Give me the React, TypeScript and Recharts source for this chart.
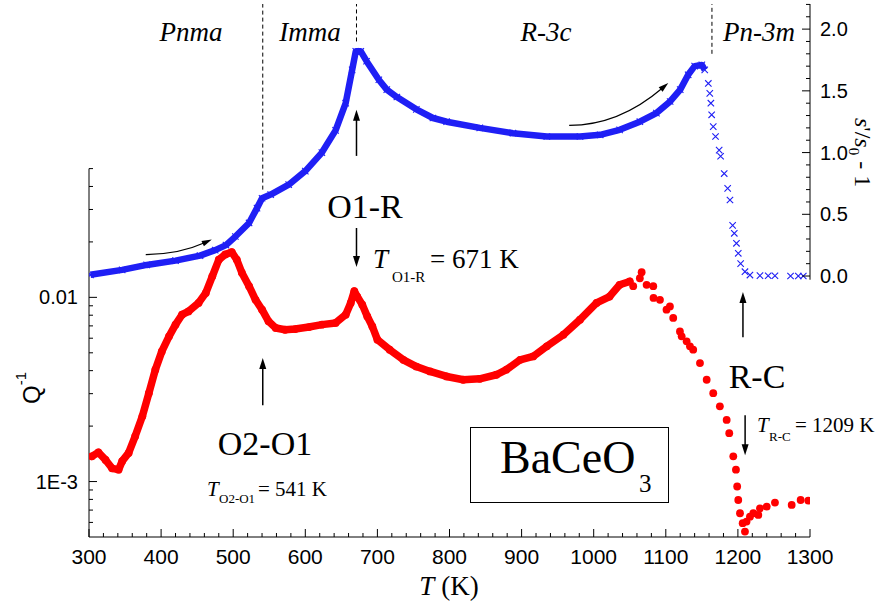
import React from 'react';
import { ComposedChart, Line, Scatter, XAxis, YAxis, ReferenceLine } from 'recharts';

// s'/s0 - 1 (right axis), dense part of the heating run
const blueT = [302, 346, 380, 420, 454, 475, 490, 503, 522, 533, 540, 552, 577, 600, 623, 642, 656, 665, 670, 677, 685, 702, 713, 727, 754, 777, 796, 842, 888, 935, 981, 1009, 1036, 1064, 1087, 1106, 1120, 1131, 1140, 1150, 1154];
const blueV = [0.01, 0.05, 0.09, 0.125, 0.165, 0.21, 0.25, 0.32, 0.43, 0.55, 0.63, 0.66, 0.74, 0.85, 1.0, 1.18, 1.4, 1.67, 1.82, 1.82, 1.74, 1.59, 1.51, 1.45, 1.35, 1.28, 1.25, 1.2, 1.157, 1.13, 1.13, 1.144, 1.184, 1.25, 1.32, 1.414, 1.51, 1.63, 1.7, 1.71, 1.67];

// s'/s0 - 1, sparse points through the R-C transition
const blueSparseT = [1159, 1161, 1162.5, 1163.6, 1165.8, 1169, 1174, 1176, 1181, 1185.8, 1189, 1192.7, 1195, 1198, 1200.5, 1203.8, 1209.8, 1216.7, 1230.6, 1242, 1251.4, 1273, 1283.8, 1290.7];
const blueSparseV = [1.56, 1.48, 1.4, 1.306, 1.21, 1.13, 1.02, 0.97, 0.83, 0.71, 0.616, 0.41, 0.346, 0.265, 0.184, 0.1, 0.035, 0.008, 0.003, 0.002, 0.002, 0, 0, 0];

// internal friction Q^-1 (left, log axis), dense part
const redT = [304, 313, 323, 332, 341, 346, 355, 364, 374, 383, 392, 401, 411, 420, 429, 438, 452, 462, 471, 480, 489, 498, 505, 512, 522, 531, 540, 549, 559, 572, 586, 605, 623, 642, 656, 663, 668, 672, 679, 686, 693, 700, 717, 736, 754, 773, 796, 819, 842, 865, 879, 898, 916, 935, 958, 981, 1004, 1022, 1036, 1050];
const redQ = [1.37e-3, 1.44e-3, 1.31e-3, 1.18e-3, 1.16e-3, 1.29e-3, 1.43e-3, 1.76e-3, 2.26e-3, 3.02e-3, 4.05e-3, 5.09e-3, 6.14e-3, 7.11e-3, 8.05e-3, 8.39e-3, 9.33e-3, 1.057e-2, 1.3e-2, 1.6e-2, 1.71e-2, 1.76e-2, 1.6e-2, 1.36e-2, 1.15e-2, 9.7e-3, 8.57e-3, 7.41e-3, 6.82e-3, 6.67e-3, 6.73e-3, 6.9e-3, 7.11e-3, 7.26e-3, 8.05e-3, 9.33e-3, 1.08e-2, 1.01e-2, 9.13e-3, 7.88e-3, 6.95e-3, 5.89e-3, 5.2e-3, 4.58e-3, 4.21e-3, 3.96e-3, 3.72e-3, 3.57e-3, 3.61e-3, 3.8e-3, 4.05e-3, 4.58e-3, 4.78e-3, 5.42e-3, 6.27e-3, 7.57e-3, 9.33e-3, 1.01e-2, 1.17e-2, 1.22e-2];

// Q^-1, scattered points above ~1050 K
const redSparseT = [1054.8, 1064, 1066.5, 1073.4, 1082.6, 1083, 1091.9, 1101, 1105.7, 1110.3, 1119.6, 1122, 1128.9, 1133.5, 1138, 1147.4, 1156.7, 1165.8, 1175, 1184.4, 1188, 1193.6, 1197.3, 1199, 1200.5, 1202.9, 1206.6, 1209.8, 1212, 1216.7, 1221.4, 1228.3, 1230.6, 1240, 1251.4, 1274.6, 1287, 1297.6];
const redSparseQ = [1.15e-2, 1.27e-2, 1.37e-2, 1.17e-2, 1.15e-2, 9.93e-3, 9.7e-3, 8.57e-3, 8.93e-3, 7.73e-3, 6.53e-3, 6.14e-3, 5.77e-3, 5.42e-3, 5.2e-3, 4.4e-3, 3.57e-3, 3.02e-3, 2.56e-3, 2.16e-3, 1.83e-3, 1.37e-3, 1.16e-3, 9.4e-4, 7.94e-4, 6.73e-4, 5.94e-4, 5.35e-4, 6.06e-4, 6.45e-4, 6.73e-4, 6.59e-4, 7.16e-4, 7.31e-4, 7.69e-4, 7.47e-4, 7.94e-4, 7.88e-4];

const xTicks = [300, 320, 340, 360, 380, 400, 420, 440, 460, 480, 500, 520, 540, 560, 580, 600, 620, 640, 660, 680, 700, 720, 740, 760, 780, 800, 820, 840, 860, 880, 900, 920, 940, 960, 980, 1000, 1020, 1040, 1060, 1080, 1100, 1120, 1140, 1160, 1180, 1200, 1220, 1240, 1260, 1280, 1300];
const leftTicks = [6e-4, 7e-4, 8e-4, 9e-4, 1e-3, 2e-3, 3e-3, 4e-3, 5e-3, 6e-3, 7e-3, 8e-3, 9e-3, 1e-2, 2e-2, 3e-2, 4e-2, 5e-2];
const rightTicks = [0, 0.1, 0.2, 0.3, 0.4, 0.5, 0.6, 0.7, 0.8, 0.9, 1.0, 1.1, 1.2, 1.3, 1.4, 1.5, 1.6, 1.7, 1.8, 1.9, 2.0, 2.1, 2.2];

const blueDense = blueT.map((T, i) => ({ T, s: blueV[i] }));
const blueSparse = blueSparseT.map((T, i) => ({ T, s: blueSparseV[i] }));
const redDense = redT.map((T, i) => ({ T, q: redQ[i] }));
const redSparse = redSparseT.map((T, i) => ({ T, q: redSparseQ[i] }));

const SANS = '"Liberation Sans", Arial, sans-serif';
const SERIF = '"Liberation Serif", "Times New Roman", serif';
const BLUE = '#1f1ff5';
const RED = '#ff0000';

const BottomTick = ({ x, y, payload }: any) => {
  const major = payload.value % 100 === 0;
  return (
    <g>
      <line x1={x} x2={x} y1={y} y2={y - (major ? 8 : 4)} stroke="#000" />
      {major && (
        <text x={x} y={y + 27} textAnchor="middle" fontFamily={SANS} fontSize={21} fill="#000">
          {payload.value}
        </text>
      )}
    </g>
  );
};

const TopTick = ({ x, y, payload }: any) => {
  const major = payload.value % 100 === 0;
  return <line x1={x} x2={x} y1={y} y2={y + (major ? 8 : 4)} stroke="#000" />;
};

const LeftTick = ({ x, y, payload }: any) => {
  const v = payload.value;
  let label = '';
  if (Math.abs(v - 1e-3) < 1e-9) label = '1E-3';
  if (Math.abs(v - 1e-2) < 1e-9) label = '0.01';
  return (
    <g>
      <line x1={x} x2={x + (label ? 8 : 4)} y1={y} y2={y} stroke="#000" />
      {label && (
        <text x={x - 11} y={y} dy="0.35em" textAnchor="end" fontFamily={SANS} fontSize={20} fill="#000">
          {label}
        </text>
      )}
    </g>
  );
};

const RightTick = ({ x, y, payload }: any) => {
  const v = payload.value;
  const major = Math.abs(v * 2 - Math.round(v * 2)) < 1e-6;
  return (
    <g>
      <line x1={x} x2={x - (major ? 8 : 4)} y1={y} y2={y} stroke="#000" />
      {major && (
        <text x={x + 10} y={y} dy="0.35em" textAnchor="start" fontFamily={SANS} fontSize={20} fill="#000">
          {v.toFixed(1)}
        </text>
      )}
    </g>
  );
};

const head = (x: number, y: number, ux: number, uy: number, len = 11, hw = 3.5) => {
  const bx = x - ux * len;
  const by = y - uy * len;
  return `${x},${y} ${bx - uy * hw},${by + ux * hw} ${bx + uy * hw},${by - ux * hw}`;
};

// straight arrow, tail -> tip
const ArrowShape = (p: any) => {
  const { x1, y1, x2, y2 } = p;
  const d = Math.hypot(x2 - x1, y2 - y1) || 1;
  const ux = (x2 - x1) / d;
  const uy = (y2 - y1) / d;
  return (
    <g>
      <line x1={x1} y1={y1} x2={x2 - ux * 9} y2={y2 - uy * 9} stroke="#000" strokeWidth={1.5} />
      <polygon points={head(x2, y2, ux, uy)} fill="#000" />
    </g>
  );
};

// curved arrow, starts flat and bends up into the tip
const CurveShape = (p: any) => {
  const { x1, y1, x2, y2 } = p;
  const cx = x1 + 0.5 * (x2 - x1);
  const cy = y1;
  const d = Math.hypot(x2 - cx, y2 - cy) || 1;
  const ux = (x2 - cx) / d;
  const uy = (y2 - cy) / d;
  return (
    <g>
      <path d={`M${x1},${y1} Q${cx},${cy} ${x2 - ux * 8},${y2 - uy * 8}`} fill="none" stroke="#000" strokeWidth={1.2} />
      <polygon points={head(x2, y2, ux, uy, 10, 3)} fill="#000" />
    </g>
  );
};

const Cross = ({ cx, cy }: any) => {
  if (cx == null || cy == null) return null;
  const r = 3.2;
  return (
    <path d={`M${cx - r},${cy - r}L${cx + r},${cy + r}M${cx - r},${cy + r}L${cx + r},${cy - r}`} stroke={BLUE} strokeWidth={1.1} fill="none" />
  );
};

const Dot = ({ cx, cy }: any) => {
  if (cx == null || cy == null) return null;
  return <circle cx={cx} cy={cy} r={3.9} fill={RED} />;
};

export default function App() {
  return (
    <div style={{ position: 'absolute', left: 0, top: 0, width: 880, height: 603, background: '#fff' }}>
      <ComposedChart width={880} height={603} margin={{ top: 4, right: 0, bottom: 0, left: 0 }}>
        <XAxis
          xAxisId="bottom"
          dataKey="T"
          type="number"
          domain={[300, 1300]}
          allowDataOverflow
          ticks={xTicks}
          interval={0}
          height={66}
          axisLine={{ stroke: '#000' }}
          tickLine={false}
          tickSize={0}
          tickMargin={0}
          tick={(p: any) => <BottomTick {...p} />}
        />
        <XAxis
          xAxisId="top"
          orientation="top"
          dataKey="T"
          type="number"
          domain={[300, 1300]}
          allowDataOverflow
          ticks={xTicks}
          interval={0}
          height={0}
          axisLine={{ stroke: '#000' }}
          tickLine={false}
          tickSize={0}
          tickMargin={0}
          tick={(p: any) => <TopTick {...p} />}
        />
        <YAxis
          yAxisId="left"
          type="number"
          scale="log"
          domain={[5e-4, 0.3914]}
          allowDataOverflow
          ticks={leftTicks}
          interval={0}
          width={89}
          axisLine={false}
          tickLine={false}
          tickSize={0}
          tickMargin={0}
          tick={(p: any) => <LeftTick {...p} />}
        />
        <YAxis
          yAxisId="right"
          orientation="right"
          type="number"
          domain={[-2.114, 2.2035]}
          allowDataOverflow
          ticks={rightTicks}
          interval={0}
          width={70}
          axisLine={false}
          tickLine={false}
          tickSize={0}
          tickMargin={0}
          tick={(p: any) => <RightTick {...p} />}
        />

        {/* partial axis lines */}
        <ReferenceLine xAxisId="bottom" yAxisId="left" segment={[{ x: 300, y: 5e-4 }, { x: 300, y: 0.05 }]} stroke="#000" />
        <ReferenceLine xAxisId="bottom" yAxisId="right" segment={[{ x: 1300, y: -0.03 }, { x: 1300, y: 2.2035 }]} stroke="#000" />

        {/* phase boundaries */}
        <ReferenceLine xAxisId="bottom" yAxisId="right" segment={[{ x: 541, y: 0.7 }, { x: 541, y: 2.2035 }]} stroke="#000" strokeDasharray="4 3" />
        <ReferenceLine xAxisId="bottom" yAxisId="right" segment={[{ x: 671, y: 1.9 }, { x: 671, y: 2.2035 }]} stroke="#000" strokeDasharray="4 3" />
        <ReferenceLine xAxisId="bottom" yAxisId="right" segment={[{ x: 1164, y: 1.8 }, { x: 1164, y: 2.2035 }]} stroke="#000" strokeDasharray="4 3" />

        <Line
          xAxisId="bottom"
          yAxisId="right"
          data={blueDense}
          dataKey="s"
          type="linear"
          stroke={BLUE}
          strokeWidth={6.5}
          strokeLinejoin="round"
          dot={(p: any) => <Cross key={p.index} {...p} />}
          isAnimationActive={false}
        />
        <Scatter
          xAxisId="bottom"
          yAxisId="right"
          data={blueSparse}
          dataKey="s"
          shape={(p: any) => <Cross {...p} />}
          isAnimationActive={false}
        />
        <Line
          xAxisId="bottom"
          yAxisId="left"
          data={redDense}
          dataKey="q"
          type="linear"
          stroke={RED}
          strokeWidth={7.5}
          strokeLinejoin="round"
          strokeLinecap="round"
          dot={(p: any) => <Dot key={p.index} {...p} />}
          isAnimationActive={false}
        />
        <Scatter
          xAxisId="bottom"
          yAxisId="left"
          data={redSparse}
          dataKey="q"
          shape={(p: any) => <Dot {...p} />}
          isAnimationActive={false}
        />

        {/* arrows */}
        <ReferenceLine xAxisId="bottom" yAxisId="right" segment={[{ x: 671, y: 0.973 }, { x: 671, y: 1.346 }]} shape={(p: any) => <ArrowShape {...p} />} />
        <ReferenceLine xAxisId="bottom" yAxisId="right" segment={[{ x: 671, y: 0.389 }, { x: 671, y: 0.073 }]} shape={(p: any) => <ArrowShape {...p} />} />
        <ReferenceLine xAxisId="bottom" yAxisId="right" segment={[{ x: 541, y: -1.046 }, { x: 541, y: -0.665 }]} shape={(p: any) => <ArrowShape {...p} />} />
        <ReferenceLine xAxisId="bottom" yAxisId="right" segment={[{ x: 1207, y: -0.495 }, { x: 1207, y: -0.13 }]} shape={(p: any) => <ArrowShape {...p} />} />
        <ReferenceLine xAxisId="bottom" yAxisId="right" segment={[{ x: 1210, y: -1.127 }, { x: 1210, y: -1.452 }]} shape={(p: any) => <ArrowShape {...p} />} />
        <ReferenceLine xAxisId="bottom" yAxisId="right" segment={[{ x: 378.7, y: 0.174 }, { x: 470.3, y: 0.296 }]} shape={(p: any) => <CurveShape {...p} />} />
        <ReferenceLine xAxisId="bottom" yAxisId="right" segment={[{ x: 966, y: 1.22 }, { x: 1103.4, y: 1.563 }]} shape={(p: any) => <CurveShape {...p} />} />
      </ComposedChart>

      <svg width={880} height={603} style={{ position: 'absolute', left: 0, top: 0, pointerEvents: 'none' }}>
        <g fontFamily={SERIF} fontStyle="italic" fontSize={27} textAnchor="middle" fill="#000">
          <text x={191} y={41}>Pnma</text>
          <text x={310} y={41}>Imma</text>
          <text x={546} y={41}>R-3c</text>
          <text x={759} y={41}>Pn-3m</text>
        </g>
        <g fontFamily={SERIF} fontSize={34} textAnchor="middle" fill="#000">
          <text x={365} y={218}>O1-R</text>
          <text x={265} y={455}>O2-O1</text>
          <text x={757} y={388}>R-C</text>
        </g>
        <g fontFamily={SERIF} fill="#000">
          <text x={373} y={268} fontSize={27} fontStyle="italic">T</text>
          <text x={392} y={282} fontSize={15}>O1-R</text>
          <text x={430} y={268} fontSize={27}>= 671 K</text>

          <text x={207} y={496} fontSize={21} fontStyle="italic">T</text>
          <text x={219} y={503} fontSize={13}>O2-O1</text>
          <text x={258} y={496} fontSize={21}>= 541 K</text>

          <text x={757} y={432} fontSize={21} fontStyle="italic">T</text>
          <text x={769} y={441} fontSize={13}>R-C</text>
          <text x={795} y={432} fontSize={21}>= 1209 K</text>
        </g>
        <rect x={470.5} y={427.5} width={198} height={75} fill="none" stroke="#000" strokeWidth={1} />
        <text x={500} y={473} fontFamily={SERIF} fontSize={46} fill="#000">BaCeO</text>
        <text x={639} y={492} fontFamily={SERIF} fontSize={25} fill="#000">3</text>

        <text x={449} y={595} fontFamily={SERIF} fontSize={27} textAnchor="middle" fill="#000">
          <tspan fontStyle="italic">T</tspan> (K)
        </text>
        <text x={40} y={404} transform="rotate(-90 40 404)" fontFamily={SANS} fontSize={24} fill="#000">
          Q<tspan fontSize={15} dy={-14}>-1</tspan>
        </text>
        <text x={855} y={118} transform="rotate(90 855 118)" fontFamily={SERIF} fontSize={24} fill="#000">
          <tspan fontStyle="italic">s</tspan>'/<tspan fontStyle="italic">s</tspan>
          <tspan fontSize={15} dy={6}>0</tspan>
          <tspan dy={-6}> - 1</tspan>
        </text>
      </svg>
    </div>
  );
}
